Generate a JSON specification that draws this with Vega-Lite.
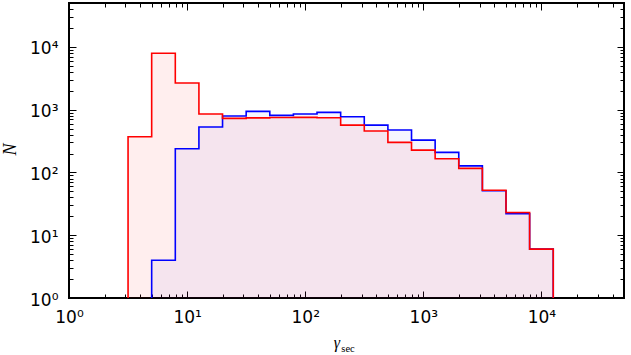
{
  "$schema": "https://vega.github.io/schema/vega-lite/v6.json",
  "width": 555,
  "height": 295,
  "autosize": {"type": "none"},
  "padding": {"left": 69, "top": 3, "right": 7, "bottom": 57},
  "background": "white",
  "config": {
    "view": {"stroke": "black", "strokeWidth": 2},
    "axis": {
      "grid": false,
      "domain": false,
      "tickColor": "black",
      "tickWidth": 1,
      "labelColor": "black",
      "labelFont": "DejaVu Sans",
      "labelFontSize": 17,
      "labelFlush": false,
      "titleColor": "black"
    }
  },
  "data": {
    "values": [
      {"s": "red", "i": 0, "x": 3.1623, "n": 0},
      {"s": "red", "i": 1, "x": 3.1623, "n": 370},
      {"s": "red", "i": 2, "x": 5.0119, "n": 7900},
      {"s": "red", "i": 3, "x": 7.9433, "n": 2660},
      {"s": "red", "i": 4, "x": 12.589, "n": 851},
      {"s": "red", "i": 5, "x": 19.953, "n": 727},
      {"s": "red", "i": 6, "x": 31.623, "n": 740},
      {"s": "red", "i": 7, "x": 50.119, "n": 750},
      {"s": "red", "i": 8, "x": 79.433, "n": 754},
      {"s": "red", "i": 9, "x": 125.89, "n": 743},
      {"s": "red", "i": 10, "x": 199.53, "n": 568},
      {"s": "red", "i": 11, "x": 316.23, "n": 456},
      {"s": "red", "i": 12, "x": 501.19, "n": 301},
      {"s": "red", "i": 13, "x": 794.33, "n": 227},
      {"s": "red", "i": 14, "x": 1258.9, "n": 165},
      {"s": "red", "i": 15, "x": 1995.3, "n": 116},
      {"s": "red", "i": 16, "x": 3162.3, "n": 52},
      {"s": "red", "i": 17, "x": 5011.9, "n": 23},
      {"s": "red", "i": 18, "x": 7943.3, "n": 6},
      {"s": "red", "i": 19, "x": 12589, "n": 0},
      {"s": "blue", "i": 0, "x": 5.0119, "n": 0},
      {"s": "blue", "i": 1, "x": 5.0119, "n": 4},
      {"s": "blue", "i": 2, "x": 7.9433, "n": 238},
      {"s": "blue", "i": 3, "x": 12.589, "n": 528},
      {"s": "blue", "i": 4, "x": 19.953, "n": 791},
      {"s": "blue", "i": 5, "x": 31.623, "n": 940},
      {"s": "blue", "i": 6, "x": 50.119, "n": 811},
      {"s": "blue", "i": 7, "x": 79.433, "n": 851},
      {"s": "blue", "i": 8, "x": 125.89, "n": 906},
      {"s": "blue", "i": 9, "x": 199.53, "n": 771},
      {"s": "blue", "i": 10, "x": 316.23, "n": 568},
      {"s": "blue", "i": 11, "x": 501.19, "n": 473},
      {"s": "blue", "i": 12, "x": 794.33, "n": 327},
      {"s": "blue", "i": 13, "x": 1258.9, "n": 209},
      {"s": "blue", "i": 14, "x": 1995.3, "n": 127},
      {"s": "blue", "i": 15, "x": 3162.3, "n": 51},
      {"s": "blue", "i": 16, "x": 5011.9, "n": 22},
      {"s": "blue", "i": 17, "x": 7943.3, "n": 6},
      {"s": "blue", "i": 18, "x": 12589, "n": 0}
    ]
  },
  "resolve": {
    "scale": {"x": "shared", "y": "shared"},
    "axis": {"x": "independent", "y": "independent"}
  },
  "layer": [
    {
      "transform": [{"filter": "datum.s == 'red' && datum.i > 0"}],
      "mark": {"type": "area", "interpolate": "step-after", "fill": "#ff0000", "fillOpacity": 0.065, "invalid": "show"},
      "encoding": {
        "x": {
          "field": "x", "type": "quantitative",
          "scale": {"type": "log", "domain": [1, 50000], "nice": false, "clamp": true},
          "axis": {
            "orient": "bottom",
            "values": [1, 10, 100, 1000, 10000],
            "tickSize": -7,
            "labelPadding": 18,
            "labelExpr": "datum.value==1?'10⁰':datum.value==10?'10¹':datum.value==100?'10²':datum.value==1000?'10³':datum.value==10000?'10⁴':''",
            "title": "γ",
            "titleFont": "Liberation Serif",
            "titleFontStyle": "italic",
            "titleFontWeight": "normal",
            "titleFontSize": 16,
            "titleAlign": "center",
            "titleBaseline": "alphabetic",
            "titleX": 267.5,
            "titleY": 49
          }
        },
        "y": {
          "field": "n", "type": "quantitative",
          "stack": null,
          "scale": {"type": "log", "domain": [1, 50000], "nice": false, "clamp": true},
          "axis": {
            "orient": "left",
            "values": [1, 10, 100, 1000, 10000],
            "tickSize": -7,
            "labelPadding": 18,
            "labelOffset": 2,
            "labelExpr": "datum.value==1?'10⁰':datum.value==10?'10¹':datum.value==100?'10²':datum.value==1000?'10³':datum.value==10000?'10⁴':''",
            "title": "N",
            "titleFont": "Liberation Serif",
            "titleFontStyle": "italic",
            "titleFontWeight": "normal",
            "titleFontSize": 18,
            "titleAngle": -90,
            "titleAlign": "center",
            "titleBaseline": "middle",
            "titleX": -59,
            "titleY": 146
          }
        },
        "y2": {"datum": 1}
      }
    },
    {
      "transform": [{"filter": "datum.s == 'blue' && datum.i > 0"}],
      "mark": {"type": "area", "interpolate": "step-after", "fill": "#0000ff", "fillOpacity": 0.04, "invalid": "show"},
      "encoding": {
        "x": {
          "field": "x", "type": "quantitative",
          "axis": {
            "orient": "bottom",
            "values": [2,3,4,5,6,7,8,9,20,30,40,50,60,70,80,90,200,300,400,500,600,700,800,900,2000,3000,4000,5000,6000,7000,8000,9000,20000,30000,40000,50000],
            "tickSize": -4,
            "labels": false,
            "title": null
          }
        },
        "y": {
          "field": "n", "type": "quantitative",
          "stack": null,
          "axis": {
            "orient": "left",
            "values": [2,3,4,5,6,7,8,9,20,30,40,50,60,70,80,90,200,300,400,500,600,700,800,900,2000,3000,4000,5000,6000,7000,8000,9000,20000,30000,40000,50000],
            "tickSize": -4,
            "labels": false,
            "title": null
          }
        },
        "y2": {"datum": 1}
      }
    },
    {
      "transform": [{"filter": "datum.s == 'blue'"}],
      "mark": {"type": "line", "interpolate": "step-after", "color": "#0000ff", "strokeWidth": 1.6, "invalid": "show"},
      "encoding": {
        "x": {
          "field": "x", "type": "quantitative",
          "axis": {
            "orient": "top",
            "values": [1, 10, 100, 1000, 10000],
            "tickSize": -7,
            "labels": false,
            "title": null
          }
        },
        "y": {
          "field": "n", "type": "quantitative",
          "axis": {
            "orient": "right",
            "values": [1, 10, 100, 1000, 10000],
            "tickSize": -7,
            "labels": false,
            "title": null
          }
        },
        "order": {"field": "i", "type": "quantitative"}
      }
    },
    {
      "transform": [{"filter": "datum.s == 'red'"}],
      "mark": {"type": "line", "interpolate": "step-after", "color": "#ff0000", "strokeWidth": 1.6, "invalid": "show"},
      "encoding": {
        "x": {
          "field": "x", "type": "quantitative",
          "axis": {
            "orient": "top",
            "values": [2,3,4,5,6,7,8,9,20,30,40,50,60,70,80,90,200,300,400,500,600,700,800,900,2000,3000,4000,5000,6000,7000,8000,9000,20000,30000,40000,50000],
            "tickSize": -4,
            "labels": false,
            "title": "sec",
            "titleFont": "Liberation Serif",
            "titleFontStyle": "normal",
            "titleFontWeight": "normal",
            "titleFontSize": 10.5,
            "titleAlign": "center",
            "titleBaseline": "alphabetic",
            "titleX": 278.5,
            "titleY": 348
          }
        },
        "y": {
          "field": "n", "type": "quantitative",
          "axis": {
            "orient": "right",
            "values": [2,3,4,5,6,7,8,9,20,30,40,50,60,70,80,90,200,300,400,500,600,700,800,900,2000,3000,4000,5000,6000,7000,8000,9000,20000,30000,40000,50000],
            "tickSize": -4,
            "labels": false,
            "title": null
          }
        },
        "order": {"field": "i", "type": "quantitative"}
      }
    }
  ]
}
